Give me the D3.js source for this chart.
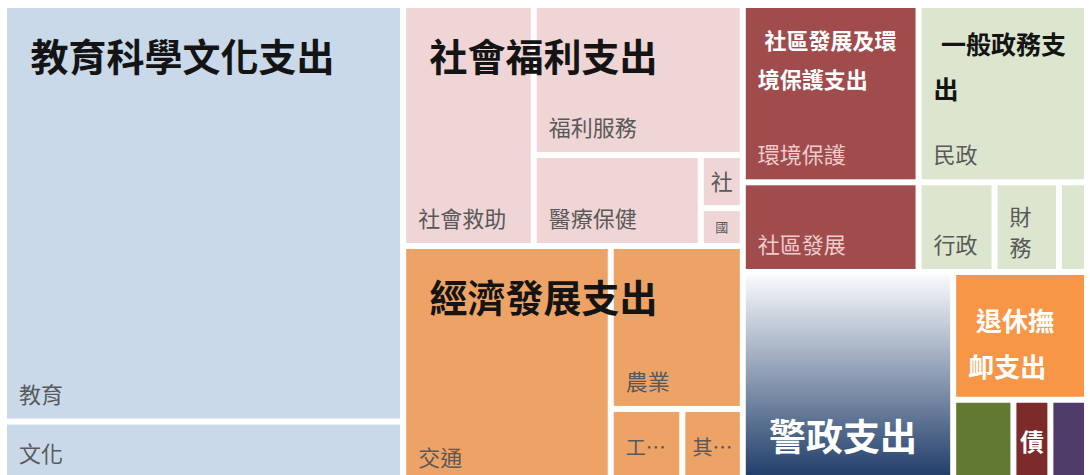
<!DOCTYPE html>
<html><head><meta charset="utf-8">
<script src="https://cdn.jsdelivr.net/npm/d3@7"></script>
<style>
html,body{margin:0;padding:0;background:#fff;overflow:hidden;}
svg{display:block;}
text{font-family:"Noto Sans CJK TC","Noto Sans CJK SC","Noto Sans CJK JP",sans-serif;}
</style></head><body>
<svg id="chart" width="1090" height="475"></svg>
<script>
// ---- data ----
const categories = ["教育科學文化支出","社會福利支出","經濟發展支出","社區發展及環境保護支出","一般政務支出","警政支出","退休撫卹支出","","債",""];
const eduItems = ["教育","文化"];
const eduValues = [166200, 25300];
const welfareItems = ["社會救助","福利服務","醫療保健","社","國"];
const welfareValues = [31450, 31350, 15200, 2230, 1590];
const econItems = ["交通","農業","工…","其…"];
const econValues = [49600, 21500, 5440, 4600];
const envItems = ["環境保護","社區發展"];
const envValues = [31150, 15750];
const govItems = ["民政","行政","財務",""];
const govValues = [29850, 6810, 5780, 2510];
// categories drawn as a single box: 警政支出, 退休撫卹支出, (unlabelled), 債, (unlabelled)
const singleValues = [44800, 17090, 5130, 3150, 3120];

// ---- styles ----
const fills = ["#c9d9ea","#f0d5d6","#eea366","#a04b4c","#dce6cf","url(#policeGrad)","#f79646","#617a2f","#7d2a2b","#503c6b"];
const subText = ["#595959","#595959","#595959","#efcccc","#595959"];
const catStyle = [
  {size:38, color:"#141414", base:63, lh:45},
  {size:38, color:"#141414", base:63, lh:45},
  {size:38, color:"#141414", base:63, lh:45},
  {size:22, color:"#ffffff", base:41, lh:39},
  {size:25, color:"#141414", base:46, lh:45},
  {size:37, color:"#ffffff", fromBottom:31, lh:45},
  {size:26, color:"#ffffff", base:56, lh:46},
  null,
  {size:24, color:"#ffffff", center:true},
  null
];

const subLists = [[eduItems,eduValues],[welfareItems,welfareValues],[econItems,econValues],[envItems,envValues],[govItems,govValues]];
const rootData = {name:"root", children: categories.map((c,i) => i < subLists.length
  ? {name:c, idx:i, children: subLists[i][0].map((n,j) => ({name:n, idx:i, value:subLists[i][1][j]}))}
  : {name:c, idx:i, value: singleValues[i - subLists.length]})};

const root = d3.hierarchy(rootData)
  .sum(d => d.children ? 0 : d.value)
  .sort((a,b) => b.value - a.value);

const tile = (node, x0, y0, x1, y1) =>
  d3.treemapSquarify.ratio(node.depth === 0 ? 1.3 : 1)(node, x0, y0, x1, y1);

d3.treemap().size([1077, 474]).paddingInner(6).tile(tile)(root);

const svg = d3.select("#chart");
svg.append("rect").attr("width",1090).attr("height",475).attr("fill","#fff");
const defs = svg.append("defs");
const grad = defs.append("linearGradient").attr("id","policeGrad")
  .attr("x1",0).attr("y1",0).attr("x2",0).attr("y2",1);
grad.append("stop").attr("offset","0%").attr("stop-color","#f9fafc");
grad.append("stop").attr("offset","100%").attr("stop-color","#1b3966");

const g = svg.append("g").attr("transform","translate(7,8)");

const leaves = root.leaves();
g.selectAll("rect.cell").data(leaves).enter().append("rect")
  .attr("class","cell")
  .attr("x", d => d.x0).attr("y", d => d.y0)
  .attr("width", d => d.x1 - d.x0).attr("height", d => d.y1 - d.y0)
  .attr("fill", d => fills[d.data.idx]);

// ---- sub-item labels ----
const margin = 12;
leaves.filter(d => d.depth === 2 && d.data.name).forEach(d => {
  const name = d.data.name, chars = [...name];
  const w = d.x1 - d.x0, h = d.y1 - d.y0;
  let size = 22;
  if (h < 40) size = 13; else if (name.endsWith("…")) size = 20;
  const color = subText[d.data.idx];
  let lines, anchorMid = false, lh = 31;
  if (chars.length * size + 2 * margin <= w) lines = [name];
  else {
    const cpl = Math.floor((w - 2 * margin) / size);
    const n = cpl >= 1 ? Math.ceil(chars.length / cpl) : 99;
    if (cpl >= 1 && n * lh + 16 <= h) {
      lines = [];
      for (let i = 0; i < chars.length; i += cpl) lines.push(chars.slice(i, i + cpl).join(""));
    } else { lines = [name]; anchorMid = true; }
  }
  let firstBase;
  if (h < 80) firstBase = d.y0 + h / 2 - (lines.length - 1) * lh / 2 + 0.38 * size;
  else firstBase = d.y1 - (lines.length > 1 ? 13 : 16) - (lines.length - 1) * lh;
  lines.forEach((ln, i) => {
    g.append("text")
      .attr("x", anchorMid ? (d.x0 + d.x1) / 2 : d.x0 + margin)
      .attr("y", firstBase + i * lh)
      .attr("text-anchor", anchorMid ? "middle" : "start")
      .attr("font-size", size).attr("fill", color)
      .text(ln);
  });
});

// ---- category labels ----
root.children.forEach(c => {
  const st = catStyle[c.data.idx];
  if (!st || !c.data.name) return;
  const chars = [...c.data.name];
  const w = c.x1 - c.x0, h = c.y1 - c.y0;
  const t = g.append("g").attr("font-weight", 700).attr("fill", st.color).attr("font-size", st.size);
  if (st.center) {
    t.append("text").attr("x", (c.x0 + c.x1) / 2).attr("y", c.y0 + h / 2 + 0.38 * st.size)
      .attr("text-anchor","middle").text(c.data.name);
    return;
  }
  const indent = 0.3 * st.size;
  const cpl = Math.max(1, Math.floor((w - 2 * margin - indent) / st.size));
  const lines = [];
  for (let i = 0; i < chars.length; i += cpl) lines.push(chars.slice(i, i + cpl).join(""));
  const first = st.fromBottom != null ? c.y1 - st.fromBottom - (lines.length - 1) * st.lh : c.y0 + st.base;
  lines.forEach((ln, i) => {
    t.append("text").attr("x", c.x0 + margin + (i === 0 ? indent : 0))
      .attr("y", first + i * st.lh).text(ln);
  });
});
</script>
</body></html>
